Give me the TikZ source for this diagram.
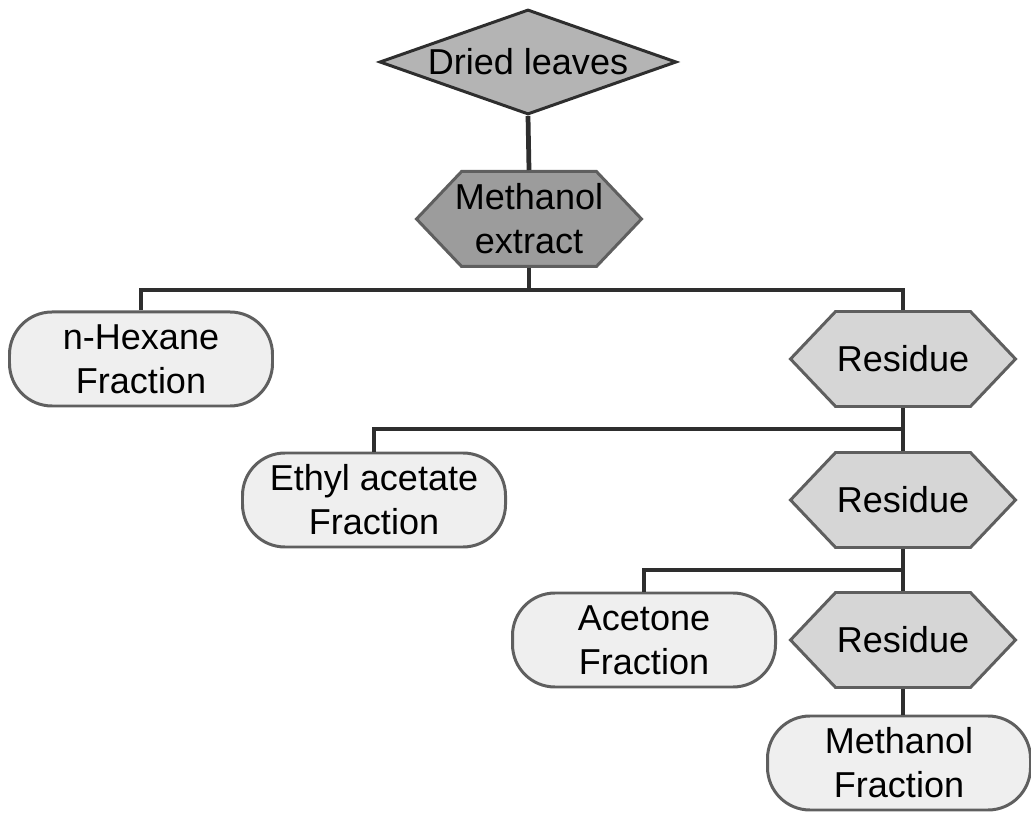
\documentclass[tikz,border=0pt]{standalone}
\usepackage{fontspec}
\setmainfont{Liberation Sans}
\usetikzlibrary{shapes.geometric,shapes.symbols}

\definecolor{leavesgray}{HTML}{B4B4B4}
\definecolor{extractgray}{HTML}{9C9C9C}
\definecolor{residuegray}{HTML}{D6D6D6}
\definecolor{fractiongray}{HTML}{EFEFEF}
\definecolor{edgegray}{HTML}{5F5F5F}
\definecolor{linegray}{HTML}{2E2E2E}

\tikzset{
  every node/.style={font=\fontsize{20.5}{25}\selectfont, align=center, inner sep=0pt},
  leaves/.style={diamond, aspect=2.83, draw=linegray, line width=1.7pt, fill=leavesgray,
    minimum width=5.94cm, minimum height=2.1cm},
  extract/.style={signal, signal to=west and east, signal pointer angle=93,
    draw=edgegray, line width=1.7pt, fill=extractgray, minimum width=4.5cm, minimum height=1.9cm},
  residue/.style={extract, fill=residuegray},
  fraction/.style={rectangle, rounded corners=0.85cm, draw=edgegray, line width=1.7pt,
    fill=fractiongray, minimum width=5.26cm, minimum height=1.88cm},
  link/.style={draw=linegray, line width=1.9pt}
}

\begin{document}
\begin{tikzpicture}
  \useasboundingbox (0,0) rectangle (20.62,16.34);

  \node[leaves] (dried) at (10.56,15.10) {Dried leaves};
  \node[extract, inner xsep=-6pt, inner ysep=-4pt] (methext) at (10.58,11.96) {Methanol\\extract};

  \node[fraction] (hexane) at (2.82,9.16) {n-Hexane\\Fraction};
  \node[residue] (resA) at (18.06,9.16) {Residue};

  \node[fraction] (ethyl) at (7.48,6.34) {Ethyl acetate\\Fraction};
  \node[residue] (resB) at (18.06,6.34) {Residue};

  \node[fraction] (acetone) at (12.88,3.54) {Acetone\\Fraction};
  \node[residue] (resC) at (18.06,3.54) {Residue};

  \node[fraction] (methfrac) at (17.98,1.08) {Methanol\\Fraction};

  % branch points
  \coordinate (busA) at (10.58,10.54);
  \coordinate (busB) at (18.06,7.76);
  \coordinate (busC) at (18.06,4.94);

  \draw[link, line width=2.7pt] (dried.south) -- (methext.north);
  \draw[link] (methext.south) -- (busA);
  \draw[link] (hexane.north) |- (busA) -| (resA.north);

  \draw[link] (resA.south) -- (resB.north);
  \draw[link] (ethyl.north) |- (busB);

  \draw[link] (resB.south) -- (resC.north);
  \draw[link] (acetone.north) |- (busC);

  \draw[link] (resC.south) -- (resC.south |- methfrac.north);
\end{tikzpicture}
\end{document}
